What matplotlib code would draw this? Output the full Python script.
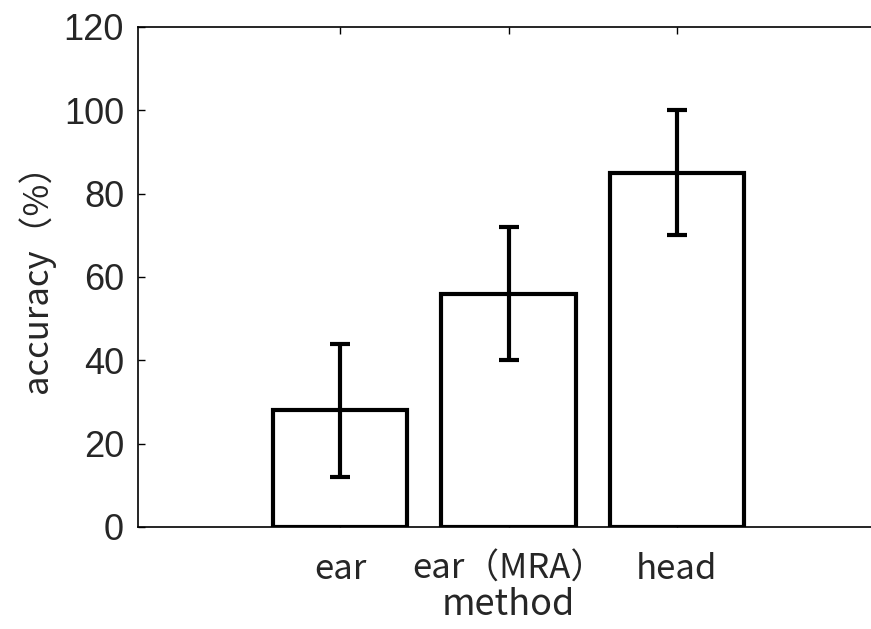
import matplotlib
matplotlib.use("Agg")
import matplotlib.pyplot as plt

methods = ["ear", "ear（MRA）", "head"]
accuracy = [28, 56, 85]
err = [16, 16, 15]
positions = [1, 2, 3]

plt.rcParams['font.family'] = ['Noto Sans CJK JP', 'DejaVu Sans']

fig = plt.figure(figsize=(8.71, 6.29), dpi=100)
# axes run past the right edge of the figure, like the cropped original
ax = fig.add_axes([138/871, 102/629, 741/871, 500/629])

ax.bar(positions, accuracy, width=0.8, color='white', edgecolor='black',
       linewidth=3, zorder=2)
ax.errorbar(positions, accuracy, yerr=err, fmt='none', ecolor='black',
            elinewidth=3, capsize=7, capthick=3, zorder=3)

ax.set_xlim(-0.2, 4.2)
ax.set_ylim(0, 120)
ax.set_xticks(positions)
ax.set_xticklabels(methods, fontsize=25, color='#262626')
ax.set_yticks(range(0, 121, 20))
ax.set_yticklabels([str(v) for v in range(0, 121, 20)], fontsize=26,
                   family=['Liberation Sans'], color='#262626')
ax.tick_params(direction='in', length=5, width=1, top=True, right=True)
ax.tick_params(axis='x', pad=18)
ax.tick_params(axis='y', pad=10)
for s in ax.spines.values():
    s.set_linewidth(1.2)

ax.set_ylabel('accuracy（%）', fontsize=25, color='#262626')
ax.yaxis.set_label_coords(-0.112, 0.515)
ax.set_xlabel('method', fontsize=26, labelpad=0, color='#262626')

plt.savefig('out.png', dpi=100)
